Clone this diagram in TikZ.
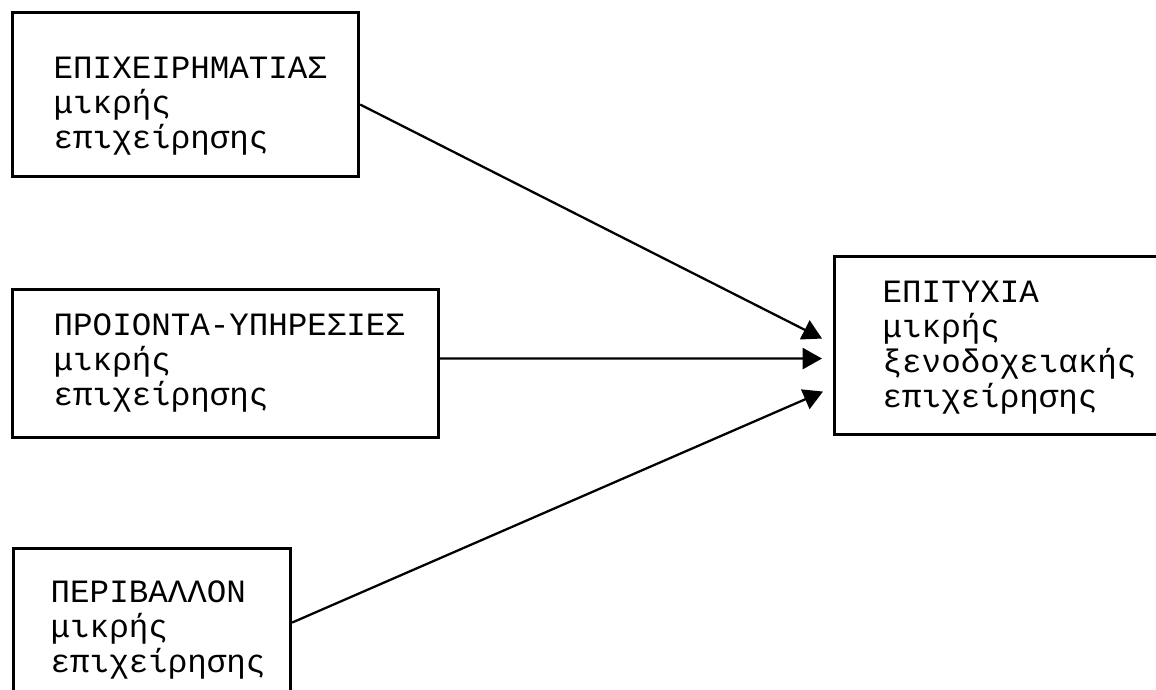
\documentclass[tikz,border=0pt]{standalone}
\usepackage{fontspec}
\setmainfont{Liberation Mono}
\usetikzlibrary{arrows.meta, calc}

\begin{document}
\begin{tikzpicture}[x=0.01cm, y=-0.01cm,
  box/.style = {draw, line width=0.85pt, inner sep=0pt, anchor=north west},
  txt/.style = {align=left, anchor=base west, inner sep=0pt, font=\fontsize{9.25pt}{9.9pt}\selectfont},
  conn/.style = {-{Triangle[length=5.5pt, width=6pt]}, line width=0.65pt}]
\clip (0,0) rectangle (1156,690);
\node[box, minimum width=3.46cm, minimum height=1.64cm] (ent) at (11,11) {};
\node[box, minimum width=4.26cm, minimum height=1.48cm] (prod) at (11,288) {};
\node[box, minimum width=2.77cm, minimum height=2cm] (env) at (12,547) {};
\node[box, minimum width=4cm, minimum height=1.78cm] (suc) at (833,255) {};
\node[txt] (ent-txt) at (53,148) {ΕΠΙΧΕΙΡΗΜΑΤΙΑΣ\\μικρής\\επιχείρησης};
\node[txt] (prod-txt) at (53,405) {ΠΡΟΙΟΝΤΑ-ΥΠΗΡΕΣΙΕΣ\\μικρής\\επιχείρησης};
\node[txt] (env-txt) at (50,672) {ΠΕΡΙΒΑΛΛΟΝ\\μικρής\\επιχείρησης};
\node[txt] (suc-txt) at (882,407) {ΕΠΙΤΥΧΙΑ\\μικρής\\ξενοδοχειακής\\επιχείρησης};
\draw[conn] ($(ent.east)+(0,10)$) -- ($(suc.west)+(-11,-7)$);
\draw[conn] ($(prod.east)+(0,-5)$) -- ($(suc.west)+(-11,13)$);
\draw[conn] ($(env.east)+(0,-26)$) -- ($(suc.west)+(-10,46)$);
\end{tikzpicture}
\end{document}
